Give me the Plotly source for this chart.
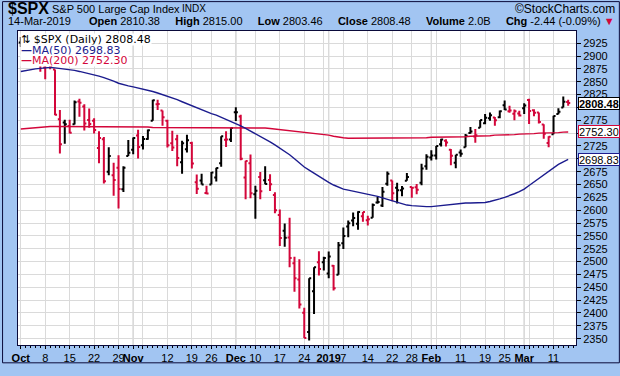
import plotly.graph_objects as go
from datetime import date

# ---------------- data ----------------
dates = [
    "2018-10-01","2018-10-02","2018-10-03","2018-10-04","2018-10-05","2018-10-08","2018-10-09","2018-10-10",
    "2018-10-11","2018-10-12","2018-10-15","2018-10-16","2018-10-17","2018-10-18","2018-10-19","2018-10-22",
    "2018-10-23","2018-10-24","2018-10-25","2018-10-26","2018-10-29","2018-10-30","2018-10-31",
    "2018-11-01","2018-11-02","2018-11-05","2018-11-06","2018-11-07","2018-11-08","2018-11-09","2018-11-12",
    "2018-11-13","2018-11-14","2018-11-15","2018-11-16","2018-11-19","2018-11-20","2018-11-21","2018-11-23",
    "2018-11-26","2018-11-27","2018-11-28","2018-11-29","2018-11-30",
    "2018-12-03","2018-12-04","2018-12-06","2018-12-07","2018-12-10","2018-12-11","2018-12-12","2018-12-13",
    "2018-12-14","2018-12-17","2018-12-18","2018-12-19","2018-12-20","2018-12-21","2018-12-24","2018-12-26",
    "2018-12-27","2018-12-28","2018-12-31",
    "2019-01-02","2019-01-03","2019-01-04","2019-01-07","2019-01-08","2019-01-09","2019-01-10","2019-01-11",
    "2019-01-14","2019-01-15","2019-01-16","2019-01-17","2019-01-18","2019-01-22","2019-01-23","2019-01-24",
    "2019-01-25","2019-01-28","2019-01-29","2019-01-30","2019-01-31",
    "2019-02-01","2019-02-04","2019-02-05","2019-02-06","2019-02-07","2019-02-08","2019-02-11","2019-02-12",
    "2019-02-13","2019-02-14","2019-02-15","2019-02-19","2019-02-20","2019-02-21","2019-02-22","2019-02-25",
    "2019-02-26","2019-02-27","2019-02-28",
    "2019-03-01","2019-03-04","2019-03-05","2019-03-06","2019-03-07","2019-03-08","2019-03-11","2019-03-12",
    "2019-03-13","2019-03-14",
]

opens = [
    2926.29,2923.80,2931.69,2919.35,2902.54,2877.53,2882.51,2873.90,2776.87,2770.54,2763.83,2767.05,2811.67,
    2802.00,2775.66,2773.94,2721.03,2737.87,2674.88,2667.86,2682.65,2640.68,2705.60,
    2717.58,2745.45,2726.37,2738.40,2774.13,2806.38,2794.10,2773.93,2730.05,2737.90,2693.52,2718.54,2730.74,
    2654.60,2657.74,2633.36,2649.97,2663.75,2691.45,2736.97,2737.76,
    2790.50,2782.43,2663.51,2691.26,2630.86,2664.44,2658.23,2658.70,2629.68,2590.75,2559.90,2547.05,2496.77,
    2465.38,2400.56,2363.12,2442.50,2498.77,2498.94,
    2476.96,2491.92,2474.33,2535.61,2568.11,2580.00,2573.51,2588.11,2580.31,2585.10,2614.75,2609.28,2651.27,
    2657.88,2643.48,2638.84,2657.44,2644.97,2644.89,2653.62,2685.49,
    2702.32,2706.49,2728.34,2735.05,2717.53,2692.36,2712.40,2722.61,2750.30,2743.50,2760.24,2769.28,2779.05,
    2780.24,2780.67,2804.35,2792.36,2787.50,2788.11,
    2798.22,2814.37,2794.41,2790.27,2766.53,2730.79,2747.61,2787.34,2799.78,2810.38,
]
highs = [
    2937.06,2931.42,2939.86,2919.78,2909.64,2894.83,2894.83,2874.02,2795.14,2775.77,2775.99,2813.46,2816.94,
    2806.04,2797.77,2778.94,2753.59,2742.59,2722.70,2692.38,2706.85,2685.43,2736.69,
    2741.67,2756.55,2744.27,2756.82,2815.15,2814.75,2794.10,2775.99,2754.60,2746.80,2735.38,2746.75,2733.16,
    2669.44,2670.73,2647.55,2674.35,2682.53,2744.00,2753.75,2760.88,
    2800.18,2785.93,2696.15,2708.54,2647.51,2674.35,2685.44,2670.19,2635.07,2601.13,2573.99,2585.29,2509.63,
    2504.41,2410.34,2467.76,2489.10,2520.27,2509.24,
    2519.49,2493.14,2538.07,2566.16,2579.82,2595.32,2597.82,2596.27,2589.32,2613.08,2625.76,2645.06,2675.47,
    2657.88,2653.19,2647.20,2672.38,2644.97,2650.93,2690.44,2708.95,
    2716.66,2724.99,2738.98,2738.08,2719.32,2708.07,2718.05,2748.19,2761.85,2757.90,2775.66,2787.33,2789.88,
    2781.58,2794.20,2813.49,2803.12,2795.76,2793.73,
    2808.02,2816.88,2796.44,2790.27,2767.25,2744.13,2784.00,2798.32,2821.24,2815.00,
]
lows = [
    2917.91,2919.37,2921.36,2883.92,2869.29,2855.04,2874.27,2784.86,2710.51,2729.44,2749.03,2766.91,2781.81,
    2755.18,2760.27,2749.22,2691.43,2651.89,2667.84,2628.16,2603.54,2635.34,2705.60,
    2708.85,2700.44,2717.94,2737.08,2774.13,2794.99,2764.24,2722.00,2714.98,2685.75,2670.75,2712.16,2681.09,
    2631.52,2649.82,2631.09,2649.97,2655.89,2684.38,2722.94,2732.76,
    2773.38,2697.18,2621.53,2623.14,2583.23,2621.30,2650.26,2637.27,2593.84,2530.54,2528.71,2488.96,2441.18,
    2408.55,2351.10,2346.58,2397.94,2472.89,2482.82,
    2467.47,2443.96,2474.33,2524.56,2547.56,2568.89,2562.02,2577.40,2570.41,2585.10,2612.68,2606.36,2647.58,
    2617.27,2612.86,2627.01,2657.33,2624.06,2631.05,2648.34,2678.65,
    2696.88,2698.75,2724.03,2724.15,2687.26,2681.83,2703.79,2722.61,2748.63,2731.23,2760.24,2767.29,2774.06,
    2764.55,2779.11,2794.99,2789.47,2775.13,2782.51,
    2787.38,2767.66,2782.97,2768.69,2739.09,2722.27,2747.61,2786.73,2799.78,2803.46,
]
closes = [
    2924.59,2923.43,2925.51,2901.61,2885.57,2884.43,2880.34,2785.68,2728.37,2767.13,2750.79,2809.92,2809.21,
    2768.78,2767.78,2755.88,2740.69,2656.10,2705.57,2658.69,2641.25,2682.63,2711.74,
    2740.37,2723.06,2738.31,2755.45,2813.89,2806.83,2781.01,2726.22,2722.18,2701.58,2730.20,2736.27,2690.73,
    2641.89,2649.93,2632.56,2673.45,2682.17,2743.79,2737.80,2760.17,
    2790.37,2700.06,2695.95,2633.08,2637.72,2636.78,2651.07,2650.54,2599.95,2545.94,2546.16,2506.96,2467.42,
    2416.62,2351.10,2467.70,2488.83,2485.74,2506.85,
    2510.03,2447.89,2531.94,2549.69,2574.41,2584.96,2596.64,2596.26,2582.61,2610.30,2616.10,2635.96,2670.71,
    2632.90,2638.70,2642.33,2664.76,2643.85,2640.00,2681.05,2704.10,
    2706.53,2724.87,2737.70,2731.61,2706.05,2707.88,2709.80,2744.73,2753.03,2745.73,2775.60,2779.76,2784.70,
    2774.88,2792.67,2796.11,2793.90,2792.38,2784.49,
    2803.69,2792.81,2789.65,2771.45,2748.93,2743.07,2783.30,2791.52,2810.92,2808.48,
]
close_before_start = 2913.98   # 28-Sep-2018 close

ma50 = [
    2870,2872,2874,2875,2876,2877,2878,2877,2876,2875,2874,2872,2870,2868,2866,2864,2861,2858,2855,2851,
    2847,2844,2842,2840,2838,2836,2834,2831,2828,2825,2822,2819,2815,2811,2807,2803,2799,2795,2791,2788,
    2785,2781,2777,2773,2769,2764,2759,2754,2749,2744,2738,2733,2727,2721,2714,2708,2700,2692,2684,2678,
    2672,2665,2659,2654,2649,2645,2641,2639,2637,2636,2634,2632,2630,2627,2624,2621,2618,2615,2612,2610,
    2609,2608,2607,2607,2607,2608,2609,2610,2612,2613,2614,2614,2614,2614,2614,2615,2617,2619,2622,2625,
    2628,2632,2636,2641,2648,2655,2662,2669,2676,2683,2689,2694,2698.83,
]
ma200 = [
    2758,2759,2760,2761,2762,2762,2763,2763,2763,2763,2763,2763,2763,2763,2763,2763,2763,2763,2763,2762,
    2762,2762,2762,2762,2762,2762,2762,2761,2761,2761,2761,2761,2761,2761,2761,2761,2761,2760,2760,2760,
    2760,2760,2760,2760,2760,2760,2760,2760,2760,2760,2760,2759,2758,2757,2756,2755,2754,2753,2752,2751,
    2750,2749,2748,2746,2744,2742,2741,2740,2740,2740,2740,2740,2740,2740,2740,2740,2740,2740,2741,2741,
    2741,2741,2741,2741,2742,2742,2742,2742,2742,2743,2743,2743,2744,2744,2745,2745,2745,2746,2746,2746,
    2747,2747,2748,2748,2749,2749,2750,2750,2751,2751,2751,2752,2752.30,
]

tick_dates = ["2018-10-01","2018-10-08","2018-10-15","2018-10-22","2018-10-29","2018-11-01","2018-11-12",
              "2018-11-19","2018-11-26","2018-12-03","2018-12-10","2018-12-17","2018-12-24","2019-01-02",
              "2019-01-07","2019-01-14","2019-01-22","2019-01-28","2019-02-01","2019-02-11","2019-02-19",
              "2019-02-25","2019-03-01","2019-03-11"]
tick_labels = ["<b>Oct</b>","8","15","22","29","<b>Nov</b>","12","19","26","<b>Dec</b>","10","17","24",
               "<b>2019</b>","7","14","22","28","<b>Feb</b>","11","19","25","<b>Mar</b>","11"]
grid_only_dates = ["2018-11-05","2018-12-31","2019-02-04","2019-03-04"]
month_start_dates = ["2018-11-01","2018-12-03","2019-01-02","2019-02-01","2019-03-01"]
y_ticks = [2350, 2375, 2400, 2425, 2450, 2475, 2500, 2525, 2550, 2575, 2600, 2625, 2650, 2675,
           2700, 2725, 2750, 2775, 2800, 2825, 2850, 2875, 2900, 2925]

symbol = "$SPX"
name = "S&P 500 Large Cap Index"
exchange = "INDX"
volume_text = "2.0B"

# ---------------- layout constants ----------------
W, H = 620, 376
ML, MR, MT, MB = 16, 44, 31, 19
PW, PH = W - ML - MR, H - MT - MB
BG = "#A2C5F2"
RED = "#D3063A"
NAVY = "#1C1C8E"
FONT = "Arial, 'Liberation Sans', sans-serif"
VFONT = "'DejaVu Sans', Verdana, sans-serif"

def px(xp):
    return (xp - ML) / PW

def py(yp):
    return 1 + (MT - yp) / PH

pos = {d: i for i, d in enumerate(dates)}
n = len(dates)
xs = list(range(n))

up = {"x": [], "o": [], "h": [], "l": [], "c": []}
dn = {"x": [], "o": [], "h": [], "l": [], "c": []}
prev = close_before_start
for i in range(n):
    tgt = up if closes[i] >= prev else dn
    tgt["x"].append(i); tgt["o"].append(opens[i]); tgt["h"].append(highs[i])
    tgt["l"].append(lows[i]); tgt["c"].append(closes[i])
    prev = closes[i]

fig = go.Figure()
fig.add_trace(go.Scatter(x=xs, y=ma200, mode="lines", line=dict(color=RED, width=1.4),
                         hoverinfo="skip", showlegend=False))
fig.add_trace(go.Scatter(x=xs, y=ma50, mode="lines", line=dict(color=NAVY, width=1.4),
                         hoverinfo="skip", showlegend=False))
for d, col in ((up, "#000000"), (dn, RED)):
    fig.add_trace(go.Ohlc(x=d["x"], open=d["o"], high=d["h"], low=d["l"], close=d["c"],
                          increasing=dict(line=dict(color=col, width=2)),
                          decreasing=dict(line=dict(color=col, width=2)),
                          tickwidth=0.42, hoverinfo="skip", showlegend=False))

tickvals = [pos[d] for d in tick_dates] + [pos[d] for d in grid_only_dates]
ticktext = tick_labels + [""] * len(grid_only_dates)

# value boxes on the right hide the price-axis labels that sit under them
box_values = [closes[-1], ma200[-1], ma50[-1]]
y_text = ["" if any(abs(v - b) < 12 for b in box_values) else str(v) for v in y_ticks]

shapes = []
for d in month_start_dates:
    shapes.append(dict(type="line", xref="x", yref="paper", x0=pos[d], x1=pos[d], y0=0, y1=1,
                       line=dict(color="#ababab", width=1), layer="below"))
# outer frame of the whole picture
shapes.append(dict(type="rect", xref="paper", yref="paper",
                   x0=(0.5 - ML) / PW, x1=1 + (MR - 0.5) / PW,
                   y0=(0.5 - MB) / PH, y1=1 + (MT - 0.5) / PH,
                   line=dict(color="#0a0a3a", width=1), fillcolor="rgba(0,0,0,0)"))

ann = []
# header line 1
ann.append(dict(x=px(4), y=py(8), text=f"<b>{symbol}</b>", font=dict(family=FONT, size=16, color="#000")))
ann.append(dict(x=px(48), y=py(8), text=name, font=dict(family=FONT, size=11, color="#000")))
ann.append(dict(x=px(179), y=py(8), text=exchange, font=dict(family=FONT, size=10, color="#000")))
ann.append(dict(x=px(617), y=py(8), text="©StockCharts.com", xanchor="right",
                font=dict(family=FONT, size=12, color="#000")))
# header line 2
last = dates[-1]
dt = date.fromisoformat(last)
date_txt = f"{dt.day}-{dt.strftime('%b')}-{dt.year}"
chg = closes[-1] - closes[-2]
chg_pct = chg / closes[-2] * 100
ann.append(dict(x=px(4), y=py(21), text=date_txt, font=dict(family=FONT, size=11, color="#000")))
sp = "     "
line2 = (f"<b>Open</b> {opens[-1]:.2f}{sp}<b>High</b> {highs[-1]:.2f}{sp}<b>Low</b> {lows[-1]:.2f}{sp}"
         f"<b>Close</b> {closes[-1]:.2f}{sp}<b>Volume</b> {volume_text}{sp}<b>Chg</b> {chg:.2f} ({chg_pct:.2f}%) "
         f"<span style='color:{RED}'>▼</span>")
ann.append(dict(x=px(617), y=py(21), text=line2, xanchor="right", font=dict(family=FONT, size=11, color="#000")))

# in-plot legend
leg = [
    (f"⇅ {symbol} (Daily) {closes[-1]:.2f}", "#000", 40),
    (f"<b>—</b>MA(50) {ma50[-1]:.2f}", NAVY, 51),
    (f"<b>—</b>MA(200) {ma200[-1]:.2f}", RED, 62),
]
for txt, col, yc in leg:
    ann.append(dict(x=px(18), y=py(yc), text=txt, bgcolor="white", borderpad=0, height=11,
                    font=dict(family=VFONT, size=11, color=col)))

# right-side value boxes
for val, col, bold in ((closes[-1], "#000", True), (ma200[-1], RED, False), (ma50[-1], NAVY, False)):
    t = f"{val:.2f}"
    if bold:
        t = f"<b>{t}</b>"
    ann.append(dict(x=1, xref="paper", y=val, yref="y", xanchor="left", yanchor="middle", xshift=2,
                    text=t, bgcolor="white", bordercolor=col, borderwidth=1, borderpad=0, height=11,
                    font=dict(family=FONT, size=11, color="#000"), showarrow=False))

for a in ann:
    a.setdefault("xref", "paper")
    a.setdefault("yref", "paper")
    a.setdefault("xanchor", "left")
    a.setdefault("yanchor", "middle")
    a.setdefault("showarrow", False)

fig.update_layout(
    width=W, height=H,
    margin=dict(l=ML, r=MR, t=MT, b=MB),
    paper_bgcolor=BG, plot_bgcolor="white",
    showlegend=False,
    shapes=shapes, annotations=ann,
    xaxis=dict(range=[-0.57, 113.6], tickmode="array", tickvals=tickvals, ticktext=ticktext,
               tickangle=0,
               showgrid=True, gridcolor="#dadada", gridwidth=1, zeroline=False,
               ticks="outside", ticklen=3, tickcolor="#000", tickfont=dict(family=FONT, size=11, color="#000"),
               showline=True, mirror=True, linecolor="#0a0a3a", linewidth=1,
               minor=dict(tickmode="linear", tick0=0, dtick=1, ticks="outside", ticklen=2,
                          tickcolor="#000", showgrid=False),
               rangeslider=dict(visible=False), fixedrange=True),
    yaxis=dict(side="right", range=[2337.7, 2948.7], tickmode="array", tickvals=y_ticks, ticktext=y_text,
               showgrid=True, gridcolor="#dadada", gridwidth=1, zeroline=False,
               ticks="outside", ticklen=4, tickcolor="#000", tickfont=dict(family=FONT, size=11, color="#000"),
               showline=True, mirror=True, linecolor="#0a0a3a", linewidth=1, fixedrange=True),
)

fig.write_html("out.html", config=dict(displayModeBar=False),
               post_script="document.body.style.margin='0';document.body.style.padding='0';"
                           "document.body.style.overflow='hidden';")
